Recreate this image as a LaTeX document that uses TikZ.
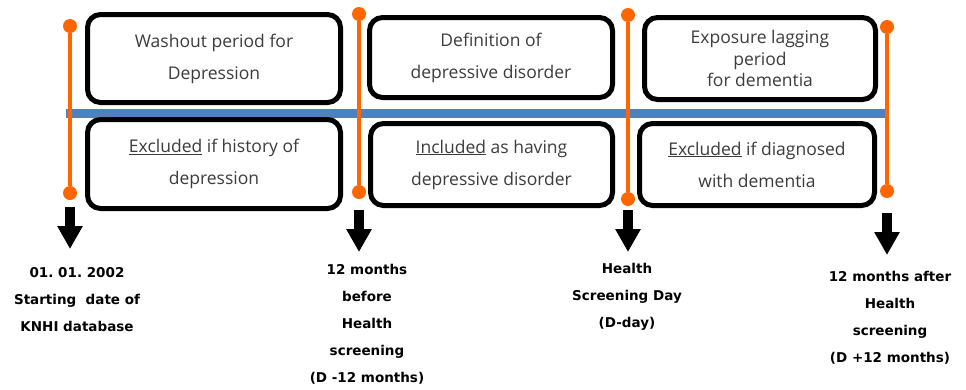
\documentclass[tikz,border=0pt]{standalone}
\usepackage{tikz}
\usetikzlibrary{arrows.meta}
\usepackage{xcolor}
\usepackage{fontspec}
\newfontfamily\boxfont{Open Sans}
\newfontfamily\datefont{DejaVu Sans}
\definecolor{markorange}{RGB}{255,102,0}
\definecolor{barblue}{RGB}{79,129,189}
\definecolor{boxtext}{RGB}{60,60,60}
\frenchspacing
\tikzset{
    period box/.style = {draw=black, line width=5pt, rounded corners=13pt, fill=white,
        align=center, text=boxtext, font=\boxfont\fontsize{17.5}{32}\selectfont},
    mark dot/.style = {circle, fill=markorange, inner sep=0pt, minimum size=14pt},
    mark line/.style = {draw=markorange, line width=4pt},
    time bar/.style = {draw=barblue, line width=9pt},
    down arrow/.style = {line width=10pt, -{Triangle[length=23pt, width=24pt]}},
    date label/.style = {align=center, font=\datefont\bfseries\fontsize{13.5}{27}\selectfont}
}

\begin{document}
\begin{tikzpicture}[x=1pt, y=-1pt]
        \useasboundingbox (0,0) rectangle (966,389);
        \coordinate (barL) at (66,113);
        \coordinate (barR) at (888,113);
        \draw[time bar] (barL) -- (barR);

        \node[period box, minimum width=253pt, minimum height=88pt] (wash) at (214,58.5)
            {Washout period for\\Depression};
        \node[period box, minimum width=243pt, minimum height=80pt] (defn) at (491,57.5)
            {Definition of\\depressive disorder};
        \node[period box, minimum width=231pt, minimum height=82pt,
              font=\boxfont\fontsize{17.5}{21.5}\selectfont] (lag) at (760,58.5)
            {Exposure lagging\\period\\for dementia};
        \node[period box, minimum width=253pt, minimum height=89pt] (excl) at (214,164)
            {\underline{Excluded} if history of\\depression};
        \node[period box, minimum width=242pt, minimum height=82pt] (incl) at (491.5,164.5)
            {\underline{Included} as having\\depressive disorder};
        \node[period box, minimum width=235pt, minimum height=82pt] (excldem) at (757,164.5)
            {\underline{Excluded} if diagnosed\\with dementia};

        \node[mark dot] (top1) at (70,26) {};
        \node[mark dot] (bot1) at (70,193) {};
        \node[mark dot] (top2) at (359,14) {};
        \node[mark dot] (bot2) at (359,192) {};
        \node[mark dot] (top3) at (628,15) {};
        \node[mark dot] (bot3) at (628,199) {};
        \node[mark dot] (top4) at (887,27) {};
        \node[mark dot] (bot4) at (887,191) {};
        \draw[mark line] (top1) -- (bot1);
        \draw[mark line] (top2) -- (bot2);
        \draw[mark line] (top3) -- (bot3);
        \draw[mark line] (top4) -- (bot4);

        \coordinate (from1) at (70,207);
        \coordinate (to1) at (70,249);
        \coordinate (from2) at (359,210);
        \coordinate (to2) at (359,252);
        \coordinate (from3) at (628,210);
        \coordinate (to3) at (628,252);
        \coordinate (from4) at (887,213);
        \coordinate (to4) at (887,255);
        \draw[down arrow] (from1) -- (to1);
        \draw[down arrow] (from2) -- (to2);
        \draw[down arrow] (from3) -- (to3);
        \draw[down arrow] (from4) -- (to4);

        \node[date label] (start) at (77,300)
            {01. 01. 2002\\Starting\ \ date of\\KNHI database};
        \node[date label] (before) at (367,324.5)
            {12 months\\before\\Health\\screening\\(D -12 months)};
        \node[date label] (dday) at (627,297)
            {Health\\Screening Day\\(D-day)};
        \node[date label] (after) at (890,317.5)
            {12 months after\\Health\\screening\\(D +12 months)};
\end{tikzpicture}
\end{document}
